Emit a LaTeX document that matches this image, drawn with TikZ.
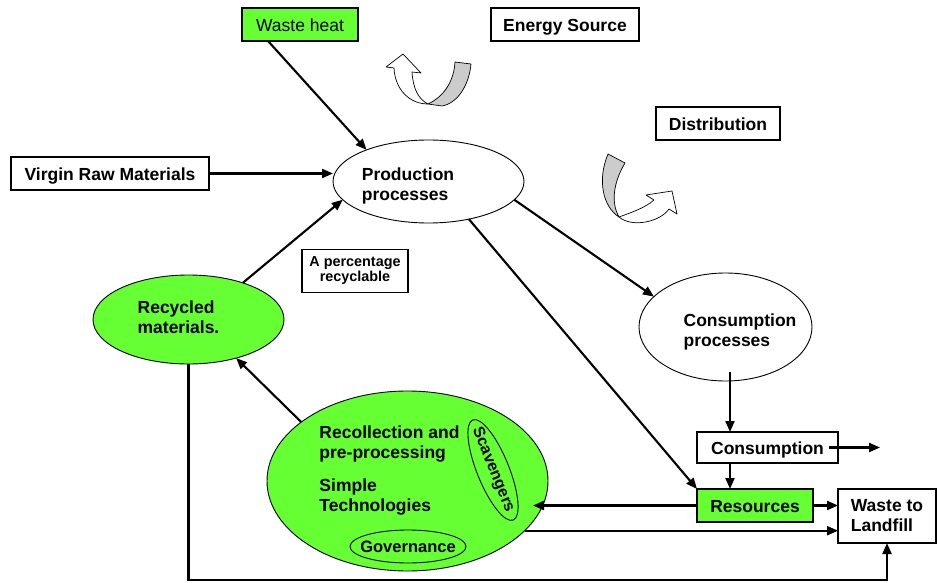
\documentclass[tikz,border=0pt]{standalone}
\usepackage{fontspec}
\setmainfont{Liberation Sans}
\usetikzlibrary{arrows.meta,shapes.geometric,calc}
\definecolor{lgreen}{RGB}{102,255,51}
\newcommand\fszmain{\fontsize{17.5}{20}\selectfont}
\newcommand\fszsmall{\fontsize{14.4}{15}\selectfont}
\begin{document}
\begin{tikzpicture}[x=1pt,y=1pt,
  every node/.style={inner sep=0pt,outer sep=0pt},
  box/.style={draw,line width=1.1pt,font=\fszmain\bfseries,text height=15pt,text depth=1.3pt},
  oval/.style={ellipse,draw,line width=0.9pt},
  lbl/.style={font=\fszmain\bfseries,align=left},
  arr/.style={line width=2.1pt,-{Triangle[length=11pt,width=9pt]}},
  ribbon/.style={draw,line width=0.7pt,line join=round}]
\fill[white] (0,0) rectangle (937,-583);
\path[use as bounding box] (0,0) rectangle (937,-583);

% boxes
\node[box,fill=lgreen,font=\fszmain,minimum width=116,minimum height=33] (wh) at (300,-24.5) {Waste heat};
\node[box,minimum width=148,minimum height=33] (es) at (565,-24.5) {Energy Source};
\node[box,minimum width=124,minimum height=33] (dist) at (718,-123.5) {Distribution};
\node[box,minimum width=198,minimum height=33] (virgin) at (110,-173.5) {Virgin Raw Materials};
\node[draw,line width=1.1pt,font=\fszsmall\bfseries,align=center,minimum width=106,minimum height=43] (pct) at (355,-271) {A percentage\\recyclable};
\node[box,minimum width=141,minimum height=31] (cbox) at (767.5,-447.5) {Consumption};
\node[box,fill=lgreen,minimum width=116,minimum height=33] (res) at (755,-505.5) {Resources};
\node[draw,line width=1.1pt,font=\fszmain\bfseries,align=left,minimum width=98,minimum height=54] (waste) at (887,-516) {Waste to\\Landfill};

% ellipses
\node[oval,fill=white,minimum width=191,minimum height=83] (prod) at (428.5,-181.5) {};
\node[oval,fill=white,minimum width=173,minimum height=108] (cons) at (725.5,-327) {};
\node[oval,fill=lgreen,minimum width=191,minimum height=89] (rec) at (188.5,-319.5) {};
\node[oval,fill=lgreen,minimum width=281,minimum height=180] (big) at (407.5,-481) {};
\node[oval,minimum width=116,minimum height=33] (gov) at (408,-546.5) {};
\node[oval,rotate=-68,minimum width=108,minimum height=32] (scav) at (493,-470) {};

% texts
\node[lbl] (prodt) at (408,-186) {Production\\processes};
\node[lbl] (const) at (740,-331.5) {Consumption\\processes};
\node[lbl] (rect) at (178.5,-317.5) {Recycled\\materials.};
\node[lbl] (bigt) at (389.5,-470.5) {Recollection and\\pre-processing\\[13pt]Simple\\Technologies};
\node[font=\fontsize{16.5}{18}\selectfont\bfseries] (govt) at (gov) {Governance};
\node[font=\fontsize{16}{18}\selectfont\bfseries,rotate=-68] (scavt) at (scav) {Scavengers};

% ribbons (top)
\draw[ribbon,fill=gray!40] (455,-62) -- (471,-64) .. controls (469,-85) and (458,-103) .. (442,-106)
  -- (428,-104) .. controls (445,-96) and (454,-80) .. (455,-62) -- cycle;
\draw[ribbon,fill=white] (428,-104) .. controls (410,-104) and (395,-90) .. (394,-68)
  -- (386,-67) -- (403,-54) -- (421,-73) -- (412,-72)
  .. controls (413,-88) and (418,-99) .. (428,-104) -- cycle;
% ribbons (bottom)
\draw[ribbon,fill=gray!40] (608,-154) -- (625,-163) .. controls (613,-183) and (611,-203) .. (619,-217)
  .. controls (603,-207) and (597,-180) .. (608,-154) -- cycle;
\draw[ribbon,fill=white] (619,-217) .. controls (630,-213) and (645,-208) .. (654,-200)
  -- (646,-195) -- (672,-191) -- (677,-214) -- (669,-209)
  .. controls (660,-222) and (632,-228) .. (619,-217) -- cycle;

% connectors
\coordinate (cx) at (730,0);
\coordinate (cout) at (880,-447.5);
\coordinate (bot) at (0,-580);
\draw[arr] ([xshift=-32pt]wh.south) -- (prod.153);
\draw[arr] (virgin.east) -- (virgin.east -| prod.west);
\draw[arr] (prod.-12) -- (cons.157);
\draw[arr] (prod.-43) -- (res.north west);
\draw[arr] (rec.34) -- (prod.192);
\draw[arr] (big.151) -- (rec.-39);
\draw[arr] ($(cons.south -| cx)+(0,9)$) -- (cbox.north -| cx);
\draw[arr] (cbox.south -| cx) -- (res.north -| cx);
\draw[arr] ($(cbox.east)+(-9,0)$) -- (cout);
\draw[arr] (res.west) -- ($(res.west -| big.east)+(-15,0)$);
\draw[arr] (res.east) -- (res.east -| waste.west);
\draw[arr] (big.-23) -- (big.-23 -| waste.west);
\draw[arr] (rec.south) -- (rec.south |- bot) -- (bot -| waste.south) -- (waste.south);
\end{tikzpicture}
\end{document}
